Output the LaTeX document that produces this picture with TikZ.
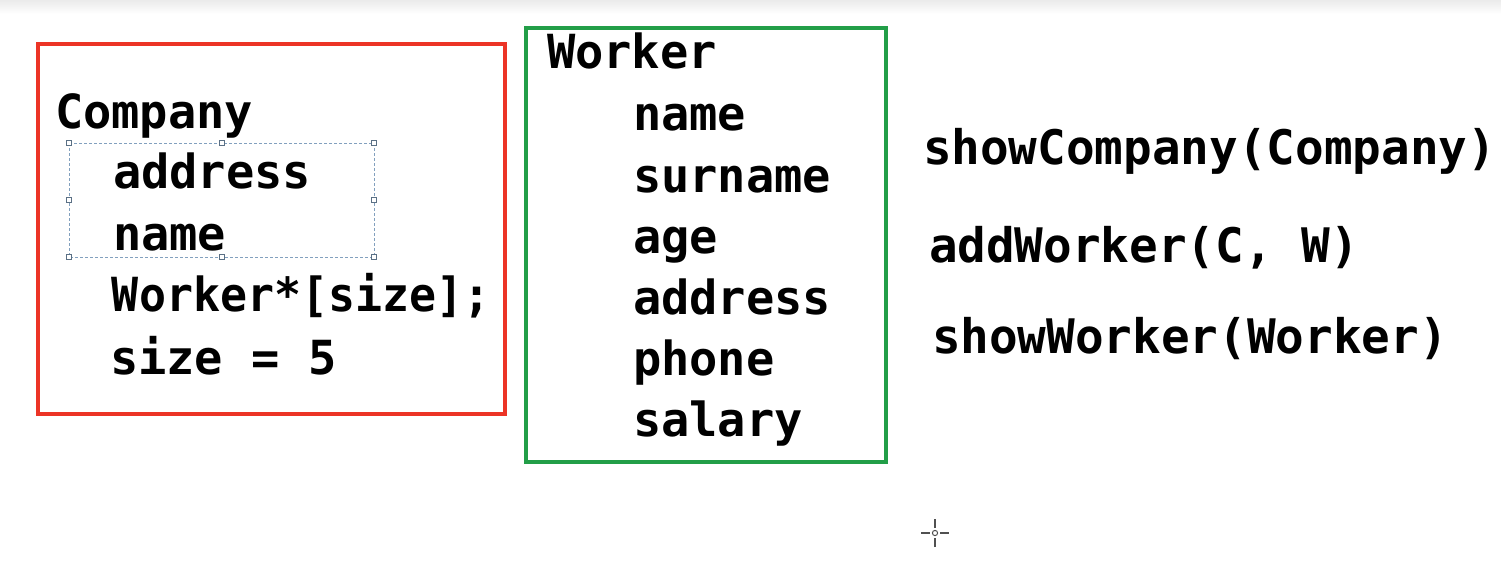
\documentclass[tikz,border=0pt]{standalone}
\usepackage{fontspec}
\usepackage{graphicx}
\setmonofont{DejaVu Sans Mono}
\newfontfamily\codefont{DejaVu Sans Mono}[BoldFont={DejaVu Sans Mono Bold}]
\definecolor{boxred}{RGB}{236,52,38}
\definecolor{boxgreen}{RGB}{34,158,72}
\definecolor{selblue}{RGB}{130,160,190}
\definecolor{cursorgray}{RGB}{80,80,80}
\tikzset{
  code/.style={anchor=base west, inner sep=0pt, outer sep=0pt,
    font=\codefont\bfseries\fontsize{23.5pt}{28pt}\selectfont, text=black},
  redbox/.style={draw=boxred, line width=2pt},
  greenbox/.style={draw=boxgreen, line width=1.6pt},
  selbox/.style={draw=selblue, line width=0.5pt, dash pattern=on 1.5pt off 1pt},
  handle/.style={draw=selblue!70!black, fill=white, line width=0.4pt, minimum size=2.5pt, inner sep=0pt, rectangle},
}
\begin{document}
\begin{tikzpicture}[x=0.5pt, y=-0.5pt]
\useasboundingbox (0,0) rectangle (1501,579);
\fill[white] (0,0) rectangle (1501,579);
\shade[top color=black!8, bottom color=white] (0,0) rectangle (1501,14);

% Company box
\draw[redbox] (38,44) rectangle (505,414);
\node[code] (company) at (55,128) {Company};
\node[code] (caddr) at (113,188) {address};
\node[code] (cname) at (113,250) {name};
\node[code] (cworkers) at (112,311) {\scalebox{0.955}[1]{Worker*[size];}};
\node[code] (csize) at (110,374) {size = 5};

% selection box
\draw[selbox] (69,143) rectangle (374,257);
\foreach \px/\py [count=\i] in {69/143, 221.5/143, 374/143, 69/200, 374/200, 69/257, 221.5/257, 374/257}
  \node[handle] (h\i) at (\px,\py) {};

% Worker box
\draw[greenbox] (526,28) rectangle (886,462);
\node[code] (worker) at (547,68) {Worker};
\node[code] (wname) at (633,130) {name};
\node[code] (wsurname) at (633,192) {surname};
\node[code] (wage) at (633,253) {age};
\node[code] (waddr) at (633,314) {address};
\node[code] (wphone) at (633,375) {phone};
\node[code] (wsalary) at (633,436) {salary};

% functions
\node[code, font=\codefont\bfseries\fontsize{23.8pt}{28pt}\selectfont] (f1) at (923,164) {showCompany(Company)};
\node[code, font=\codefont\bfseries\fontsize{23.8pt}{28pt}\selectfont] (f2) at (929,262) {addWorker(C, W)};
\node[code, font=\codefont\bfseries\fontsize{23.8pt}{28pt}\selectfont] (f3) at (932,353) {showWorker(Worker)};

% cursor
\coordinate (cur) at (935,533);
\draw[cursorgray, line width=0.9pt] ([yshift=-7]cur) -- ([yshift=-2.5]cur) ([yshift=2.5]cur) -- ([yshift=7]cur)
  ([xshift=-7]cur) -- ([xshift=-2.5]cur) ([xshift=2.5]cur) -- ([xshift=7]cur);
\draw[cursorgray, line width=0.5pt] (cur) circle (1.3pt);
\end{tikzpicture}
\end{document}
